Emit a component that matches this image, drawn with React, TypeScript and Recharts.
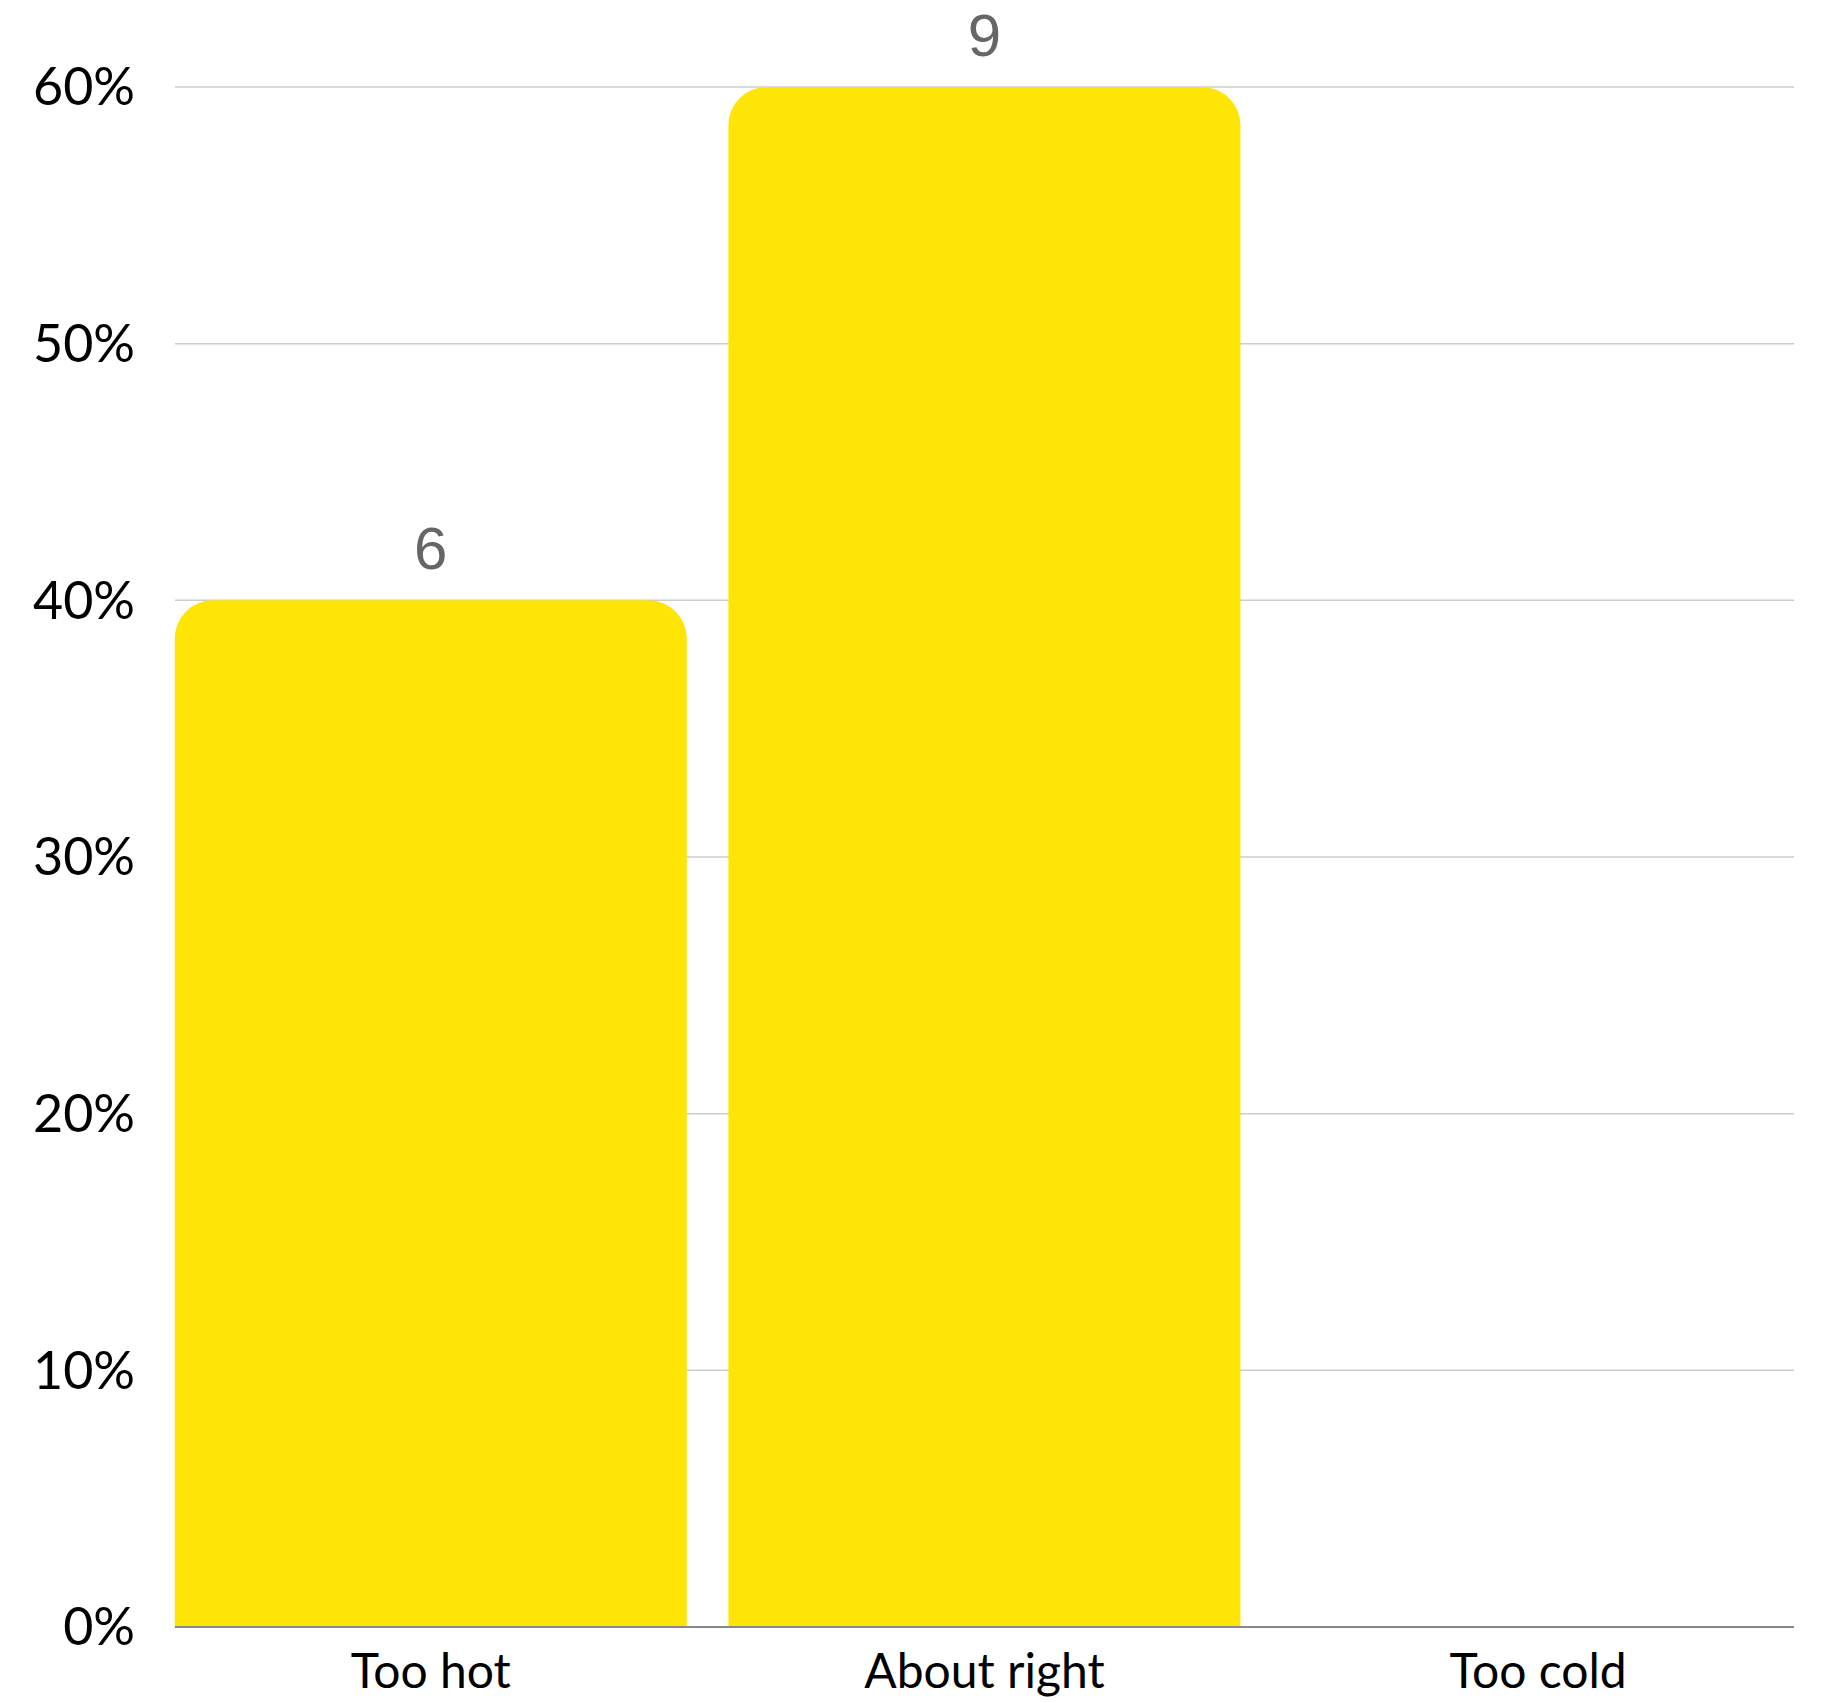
import React from "react";
import { BarChart, Bar, XAxis, YAxis, CartesianGrid, LabelList } from "recharts";

// Survey answers: how the temperature felt
const categories = ["Too hot", "About right", "Too cold"];
const counts = [6, 9, 0];
const yTicks = [0, 10, 20, 30, 40, 50, 60];

const total = counts.reduce((a, b) => a + b, 0);
const data = categories.map((name, i) => ({
  name,
  count: counts[i],
  pct: (counts[i] / total) * 100,
}));

const BAR_COLOR = "#FFE505";

const renderCount = (props: any) => {
  const { x, y, width, value } = props;
  if (!value) return null;
  return (
    <text
      x={x + width / 2}
      y={y - 31}
      textAnchor="middle"
      fill="#666666"
      fontSize={60}
      fontFamily="'Liberation Sans', Arial, sans-serif"
    >
      {value}
    </text>
  );
};

export default function App() {
  return (
    <div style={{ position: "absolute", left: 0, top: 0, background: "#fff" }}>
      <BarChart
        width={1821}
        height={1703}
        data={data}
        margin={{ top: 87, right: 27, left: 15, bottom: 0 }}
        barCategoryGap="3.75%"
      >
        <CartesianGrid vertical={false} stroke="#cccccc" strokeWidth={1.5} />
        <XAxis
          dataKey="name"
          padding={{ left: -21, right: -21 }}
          axisLine={{ stroke: "#888888", strokeWidth: 2 }}
          tickLine={false}
          tickSize={0}
          tickMargin={27}
          height={76}
          tick={{ fill: "#000", fontSize: 48, fontFamily: "Lato, sans-serif" }}
        />
        <YAxis
          width={160}
          domain={[0, 60]}
          ticks={yTicks}
          tickFormatter={(v: number) => `${v}%`}
          axisLine={false}
          tickLine={false}
          tickSize={0}
          tickMargin={40}
          tick={{ fill: "#000", fontSize: 52, fontFamily: "Lato, sans-serif" }}
        />
        <Bar dataKey="pct" fill={BAR_COLOR} radius={[38, 38, 0, 0]} isAnimationActive={false}>
          <LabelList dataKey="count" content={renderCount} />
        </Bar>
      </BarChart>
    </div>
  );
}
